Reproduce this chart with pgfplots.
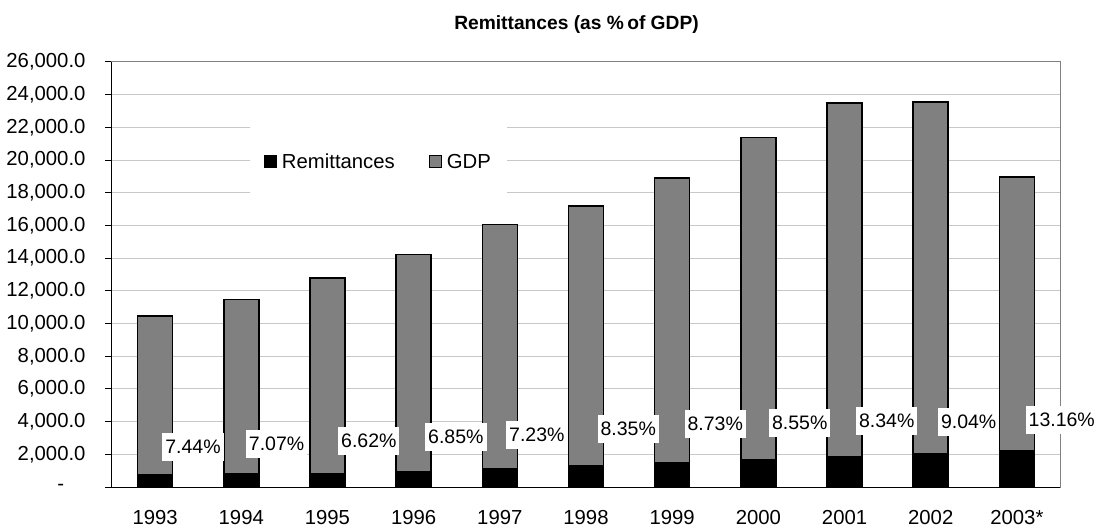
\documentclass[border=0pt]{standalone}
\usepackage{pgfplots}
\pgfplotsset{compat=1.18}
\usepackage{fontspec}
\setmainfont{Liberation Sans}

\definecolor{gdpgray}{RGB}{128,128,128}
\definecolor{gridgray}{RGB}{200,200,200}
\definecolor{framegray}{RGB}{128,128,128}

% GDP and remittances
\pgfplotstableread{
x gdp remit
0 10460 735
1 11470 810
2 12785 832
3 14217 936
4 16060 1100
5 17189 1305
6 18897 1510
7 21380 1695
8 23488 1836
9 23565 2038
10 18957 2240
}\datatable

\begin{document}
\begin{tikzpicture}
\useasboundingbox (-112bp,-40bp) rectangle (988bp,487bp);
\begin{axis}[
    at={(0,0)}, anchor=south west,
    scale only axis,
    width=948bp, height=425bp,
    xmin=-0.5, xmax=10.5,
    ymin=0, ymax=26000,
    clip=false,
    scaled y ticks=false,
    font=\fontsize{20.3bp}{24bp}\selectfont,
    axis line style={draw=framegray, line width=1bp},
    ymajorgrids=true,
    grid style={draw=gridgray, line width=1bp},
    tick align=outside,
    tick pos=left,
    major tick length=7bp,
    tick style={black, line width=1bp},
    xtick={0,...,10},
    xticklabels={1993,1994,1995,1996,1997,1998,1999,2000,2001,2002,2003*},
    x tick style={draw=none},
    extra x ticks={-0.5,0.5,...,10.5},
    extra x tick labels={},
    extra x tick style={tick style={black, line width=1bp}, grid=none},
    xticklabel style={anchor=base, yshift=-30bp},
    ytick={0,2000,...,26000},
    yticklabels={\makebox[28bp][l]{-},{2,000.0},{4,000.0},{6,000.0},{8,000.0},{10,000.0},{12,000.0},{14,000.0},{16,000.0},{18,000.0},{20,000.0},{22,000.0},{24,000.0},{26,000.0}},
    yticklabel style={anchor=east, xshift=-16bp},
    title={Remittances (as \%\hspace{-2bp} of GDP)},
    title style={at={(0.49,1)}, anchor=center, yshift=31bp, font=\fontsize{19.2bp}{22bp}\selectfont\bfseries},
    legend columns=-1,
    reverse legend,
    legend style={at={(0.281,0.765)}, anchor=center, draw=none, fill=white,
        inner xsep=14bp, inner ysep=34bp,
        font=\fontsize{20.3bp}{24bp}\selectfont,
        /tikz/every odd column/.append style={column sep=3bp},
        /tikz/every even column/.append style={column sep=32bp}},
    legend image code/.code={\draw[#1, draw=black, line width=1bp] (0bp,-6bp) rectangle (12bp,6bp);},
]
\addplot[ybar, bar width=35bp, bar shift=0pt, fill=gdpgray, draw=black, line width=1.5bp] table[x=x, y=gdp] {\datatable};
\addplot[ybar, bar width=35bp, bar shift=0pt, fill=black, draw=black, line width=1.5bp] table[x=x, y=remit] {\datatable};
\legend{GDP, Remittances}

% share of GDP, as white boxed labels beside the bars
\addplot[draw=none, mark=none, forget plot,
    point meta=explicit symbolic,
    nodes near coords,
    every node near coord/.append style={anchor=center, fill=white, text=black,
        inner xsep=3bp, inner ysep=7bp, font=\fontsize{19.5bp}{22bp}\selectfont}]
coordinates {
    (0.44,2450) [7.44\%]
    (1.41,2630) [7.07\%]
    (2.48,2814) [6.62\%]
    (3.49,3059) [6.85\%]
    (4.43,3181) [7.23\%]
    (5.49,3548) [8.35\%]
    (6.50,3854) [8.73\%]
    (7.48,3915) [8.55\%]
    (8.49,4038) [8.34\%]
    (9.44,3977) [9.04\%]
    (10.52,4099) [13.16\%]
};
\draw[black, line width=1bp] (rel axis cs:0,1) -- (rel axis cs:0,0) -- (rel axis cs:1,0);
\end{axis}
\end{tikzpicture}
\end{document}
